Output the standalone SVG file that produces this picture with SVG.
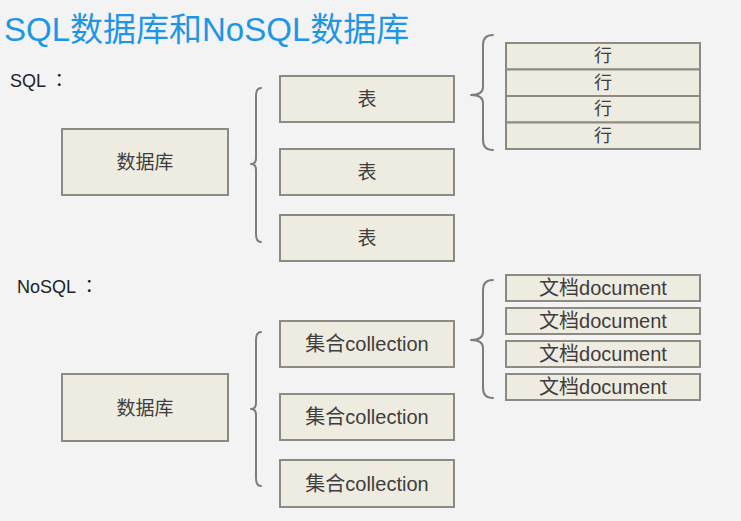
<svg xmlns="http://www.w3.org/2000/svg" width="741" height="521" viewBox="0 0 741 521">
<style>
.bg{fill:#f3f3f3}
.box{fill:#eeebe1;stroke:#8b8b84;stroke-width:2}
.t{font-family:"Liberation Sans","Noto Sans CJK SC",sans-serif;fill:#3e3e3e;text-anchor:middle;dominant-baseline:central}
.lbl{font-family:"Liberation Sans","Noto Sans CJK JP",sans-serif;fill:#222;font-size:18px}
.brace{fill:none;stroke:#7d7d7d;stroke-width:2;stroke-linejoin:round;stroke-linecap:round}
</style>
<rect class="bg" x="0" y="0" width="741" height="521"/>
<text x="4" y="41" style="font-family:'Liberation Sans','Noto Sans CJK SC',sans-serif;font-size:33px;fill:#1e96e6">SQL数据库和NoSQL数据库</text>
<text class="lbl" x="10" y="87">SQL ：</text>
<text class="lbl" x="17" y="293">NoSQL ：</text>

<g id="sql-db"><rect class="box" x="62" y="129" width="166" height="66"/><text class="t" x="145" y="162" font-size="19">数据库</text></g>
<g id="sql-table1"><rect class="box" x="280" y="76" width="174" height="46"/><text class="t" x="367" y="99" font-size="19">表</text></g>
<g id="sql-table2"><rect class="box" x="280" y="149" width="174" height="46"/><text class="t" x="367" y="172" font-size="19">表</text></g>
<g id="sql-table3"><rect class="box" x="280" y="215" width="174" height="46"/><text class="t" x="367" y="238" font-size="19">表</text></g>
<g id="sql-row1"><rect class="box" x="506" y="43" width="194" height="26.5"/><text class="t" x="603" y="56" font-size="18">行</text></g>
<g id="sql-row2"><rect class="box" x="506" y="69.5" width="194" height="26.5"/><text class="t" x="603" y="83" font-size="18">行</text></g>
<g id="sql-row3"><rect class="box" x="506" y="96" width="194" height="26.5"/><text class="t" x="603" y="109" font-size="18">行</text></g>
<g id="sql-row4"><rect class="box" x="506" y="122.5" width="194" height="26.5"/><text class="t" x="603" y="136" font-size="18">行</text></g>

<g id="nosql-db"><rect class="box" x="62" y="374" width="166" height="67"/><text class="t" x="145" y="408" font-size="19">数据库</text></g>
<g id="nosql-coll1"><rect class="box" x="280" y="321" width="174" height="46"/><text class="t" x="367" y="344" font-size="20">集合collection</text></g>
<g id="nosql-coll2"><rect class="box" x="280" y="394" width="174" height="46"/><text class="t" x="367" y="417" font-size="20">集合collection</text></g>
<g id="nosql-coll3"><rect class="box" x="280" y="460" width="174" height="47"/><text class="t" x="367" y="484" font-size="20">集合collection</text></g>
<g id="nosql-doc1"><rect class="box" x="506" y="275" width="194" height="26"/><text class="t" x="603" y="288" font-size="20">文档document</text></g>
<g id="nosql-doc2"><rect class="box" x="506" y="308" width="194" height="26"/><text class="t" x="603" y="321" font-size="20">文档document</text></g>
<g id="nosql-doc3"><rect class="box" x="506" y="341" width="194" height="26"/><text class="t" x="603" y="354" font-size="20">文档document</text></g>
<g id="nosql-doc4"><rect class="box" x="506" y="374" width="194" height="26"/><text class="t" x="603" y="387" font-size="20">文档document</text></g>

<g id="connectors">
<path class="brace" d="M261 88 Q256 88 256 96 L256 158 Q256 164 251 164 Q256 164 256 170 L256 234 Q256 242 261 242"/>
<path class="brace" d="M261 332 Q256 332 256 340 L256 403 Q256 409 251 409 Q256 409 256 415 L256 478 Q256 486 261 486"/>
<path class="brace" d="M493 35 Q483 35 483 45 L483 87 Q483 95 471 95 Q483 95 483 103 L483 140 Q483 150 493 150"/>
<path class="brace" d="M493 280 Q483 280 483 290 L483 332 Q483 340 471 340 Q483 340 483 348 L483 388 Q483 398 493 398"/>
</g>
</svg>
